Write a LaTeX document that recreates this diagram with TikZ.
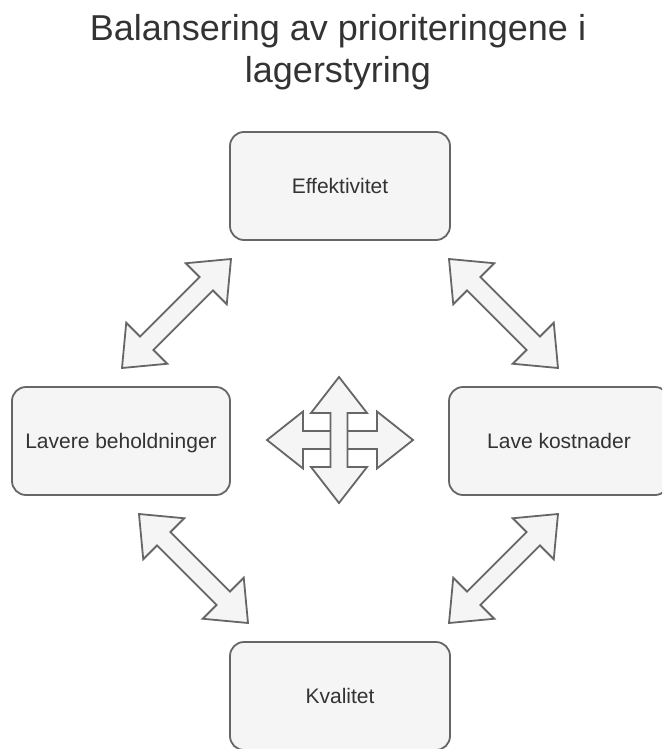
\documentclass[tikz,border=0pt]{standalone}
\usepackage{fontspec}
\setmainfont{Liberation Sans}
\usetikzlibrary{calc}

\definecolor{boxfill}{HTML}{F5F5F5}
\definecolor{boxline}{HTML}{666666}
\definecolor{ink}{HTML}{333333}

\tikzset{
  prio/.style={draw=boxline, fill=boxfill, line width=1.8pt, rounded corners=14pt,
    minimum width=220pt, minimum height=108pt, inner sep=0pt,
    text=ink, font=\fontsize{21pt}{25pt}\selectfont, text height=15pt, text depth=0pt},
  heading/.style={text=ink, font=\fontsize{36pt}{42pt}\selectfont, anchor=base, inner sep=0pt},
  arrowbody/.style={draw=boxline, fill=boxfill, line width=1.8pt, line join=miter},
}

% double-headed block arrow between two tips:
% #1,#2 tips, #3 head length, #4 head half-width, #5 shaft half-width
\newcommand\biarrow[5]{%
  \coordinate (ha) at ($(#1)!#3!(#2)$);
  \coordinate (hb) at ($(#2)!#3!(#1)$);
  \draw[arrowbody] (#1)
    -- ($(ha)!#4!90:(#2)$) -- ($(ha)!#5!90:(#2)$)
    -- ($(hb)!#5!-90:(#1)$) -- ($(hb)!#4!-90:(#1)$)
    -- (#2)
    -- ($(hb)!#4!90:(#1)$) -- ($(hb)!#5!90:(#1)$)
    -- ($(ha)!#5!-90:(#2)$) -- ($(ha)!#4!-90:(#2)$)
    -- cycle;
}

\begin{document}
\begin{tikzpicture}[x=1pt, y=-1pt]
  \useasboundingbox (0,0) rectangle (662,749);
  \clip (0,0) rectangle (662,749);

  % title
  \node[heading] (title1) at (338,41) {Balansering av prioriteringene i};
  \node[heading] (title2) at (338,83) {lagerstyring};

  % the four priorities
  \node[prio] (eff)  at (340,186) {Effektivitet};
  \node[prio, minimum width=218pt] (lav) at (121,441) {Lavere beholdninger};
  \node[prio] (kost) at (559,441) {Lave kostnader};
  \node[prio] (kval) at (340,696) {Kvalitet};

  % tips of the trade-off arrows
  \coordinate (ulA) at (122,368); \coordinate (ulB) at (231,259);
  \coordinate (urA) at (449,259); \coordinate (urB) at (558,368);
  \coordinate (llA) at (139,514); \coordinate (llB) at (248,623);
  \coordinate (lrA) at (558,514); \coordinate (lrB) at (449,623);

  \biarrow{ulA}{ulB}{35pt}{29pt}{9.5pt}
  \biarrow{urA}{urB}{35pt}{29pt}{9.5pt}
  \biarrow{llA}{llB}{35pt}{29pt}{9.5pt}
  \biarrow{lrA}{lrB}{35pt}{29pt}{9.5pt}

  % central four-way arrow
  \coordinate (cW) at (267,440); \coordinate (cE) at (413,440);
  \coordinate (cN) at (339,377); \coordinate (cS) at (339,503);
  \biarrow{cW}{cE}{36pt}{28.5pt}{9pt}
  \biarrow{cN}{cS}{36pt}{28pt}{8.5pt}
\end{tikzpicture}
\end{document}
